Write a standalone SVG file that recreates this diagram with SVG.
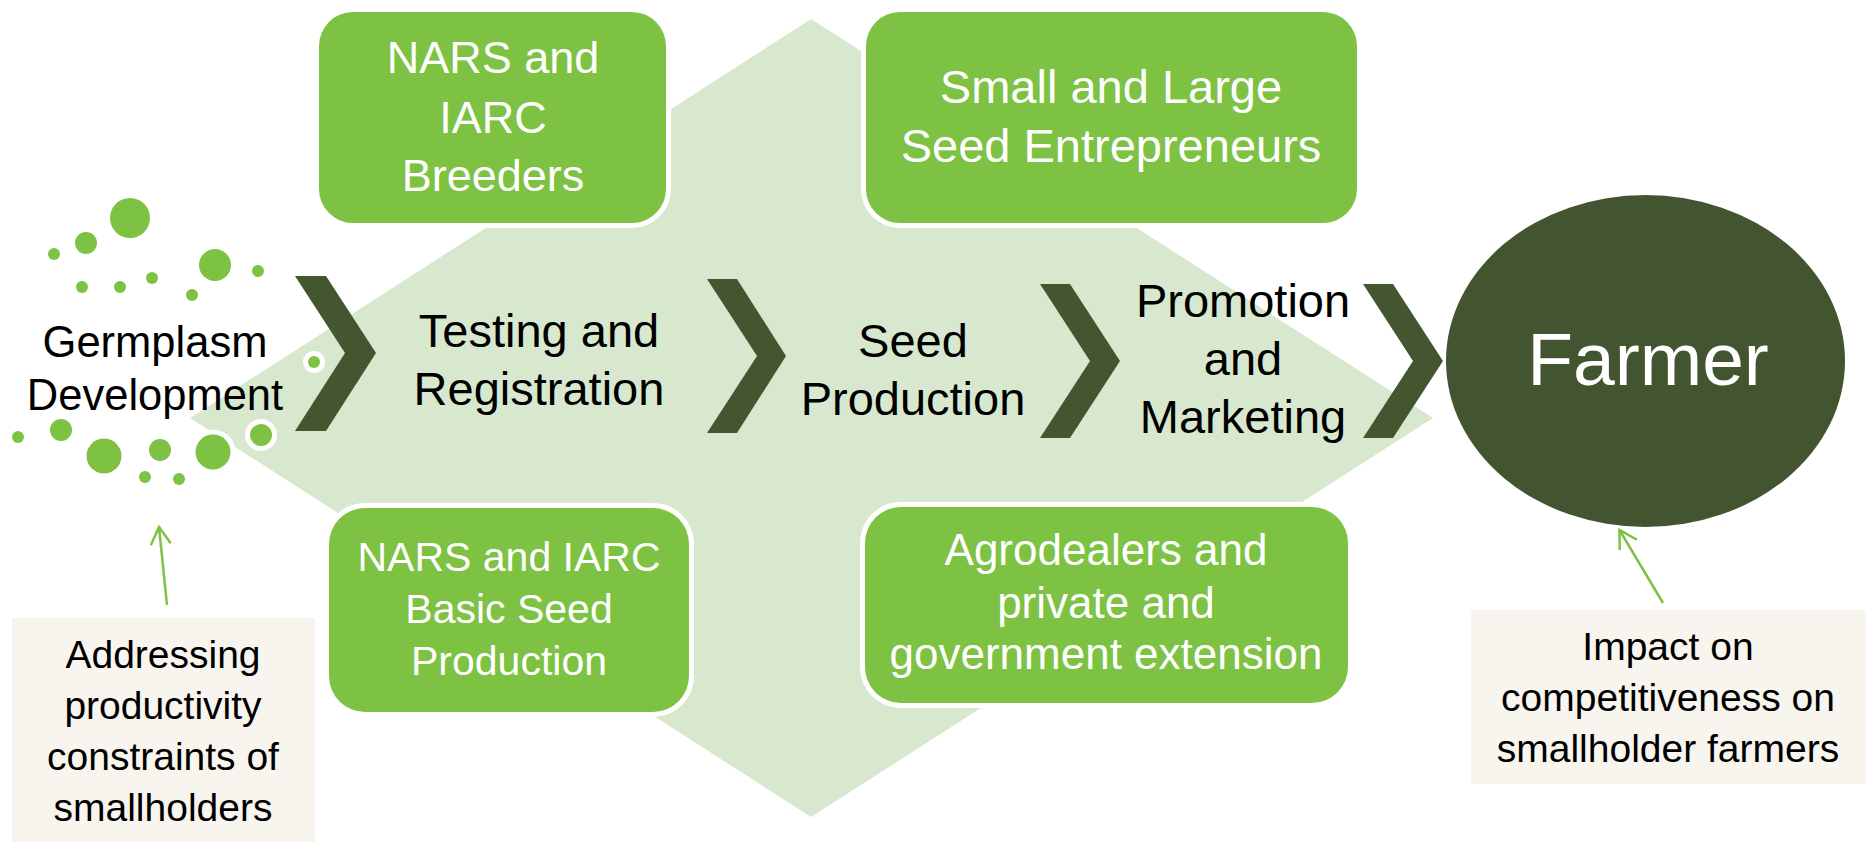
<svg xmlns="http://www.w3.org/2000/svg" width="1866" height="842" viewBox="0 0 1866 842">
<defs>
<style>
text{font-family:"Liberation Sans",Arial,sans-serif;text-anchor:middle}
.lbl{fill:#000;font-size:47px}
.lbl-sm{fill:#000;font-size:43.5px}
.box{fill:#7DC243;stroke:#fff;stroke-width:10;paint-order:stroke}
.btxt{fill:#fff}
.chev{fill:#44562F}
.dot{fill:#7DC243;stroke:#fff;stroke-width:10;paint-order:stroke}
.note{fill:#F8F4EE}
.ntxt{fill:#000;font-size:39px}
.conn{stroke:#7DC243;stroke-width:2.5;fill:none}
</style>
<marker id="arr" markerUnits="userSpaceOnUse" markerWidth="24" markerHeight="24" refX="20" refY="12" orient="auto" overflow="visible">
<path d="M2.7,2 L20,12 L2.7,22" fill="none" stroke="#7DC243" stroke-width="2.5"/>
</marker>
</defs>
<rect width="1866" height="842" fill="#fff"/>
<g id="background">
<polygon points="811,19 1433,418 811,817 190,418" fill="#D7E8CF"/>
</g>
<g id="node-breeders">
<rect class="box" x="319" y="12" width="347" height="211" rx="34"/>
<text class="btxt" font-size="45" x="493"><tspan x="493" y="73">NARS and</tspan><tspan x="493" y="133">IARC</tspan><tspan x="493" y="191">Breeders</tspan></text>
</g>
<g id="node-entrepreneurs">
<rect class="box" x="866" y="12" width="491" height="211" rx="34"/>
<text class="btxt" font-size="47" x="1111"><tspan x="1111" y="103">Small and Large</tspan><tspan x="1111" y="162">Seed Entrepreneurs</tspan></text>
</g>
<g id="node-basic-seed">
<rect class="box" x="329" y="508" width="360" height="204" rx="36"/>
<text class="btxt" font-size="41" x="509"><tspan x="509" y="571">NARS and IARC</tspan><tspan x="509" y="623">Basic Seed</tspan><tspan x="509" y="675">Production</tspan></text>
</g>
<g id="node-agrodealers">
<rect class="box" x="865" y="507" width="483" height="196" rx="36"/>
<text class="btxt" font-size="44" x="1106"><tspan x="1106" y="565">Agrodealers and</tspan><tspan x="1106" y="618">private and</tspan><tspan x="1106" y="669">government extension</tspan></text>
</g>
<g id="dots">
<circle class="dot" cx="130" cy="218" r="20"/>
<circle class="dot" cx="86" cy="243" r="11"/>
<circle class="dot" cx="54" cy="254" r="6"/>
<circle class="dot" cx="215" cy="265" r="16"/>
<circle class="dot" cx="258" cy="271" r="6"/>
<circle class="dot" cx="82" cy="287" r="6"/>
<circle class="dot" cx="120" cy="287" r="6"/>
<circle class="dot" cx="152" cy="278" r="6"/>
<circle class="dot" cx="192" cy="295" r="6"/>
<circle class="dot" cx="314" cy="362" r="6"/>
<circle class="dot" cx="18" cy="437" r="6"/>
<circle class="dot" cx="61" cy="430" r="11"/>
<circle class="dot" cx="104" cy="456" r="17.5"/>
<circle class="dot" cx="160" cy="450" r="11"/>
<circle class="dot" cx="213" cy="452" r="17.5"/>
<circle class="dot" cx="261" cy="435" r="11"/>
<circle class="dot" cx="145" cy="477" r="6"/>
<circle class="dot" cx="179" cy="479" r="6"/>
</g>
<g id="node-germplasm">
<text class="lbl-sm" x="155"><tspan x="155" y="357">Germplasm</tspan><tspan x="155" y="410">Development</tspan></text>
</g>
<g id="chevrons">
<polygon class="chev" points="295,276 326,276 376,353 326,431 295,431 345,353"/>
<polygon class="chev" points="707,279 737,279 786,356 737,433 707,433 757,356"/>
<polygon class="chev" points="1040,284 1070,284 1120,361 1070,438 1040,438 1090,361"/>
<polygon class="chev" points="1363,284 1393,284 1443,361 1393,438 1363,438 1413,361"/>
</g>
<g id="node-testing">
<text class="lbl" x="539"><tspan x="539" y="347">Testing and</tspan><tspan x="539" y="405">Registration</tspan></text>
</g>
<g id="node-seed-production">
<text class="lbl" x="913"><tspan x="913" y="357">Seed</tspan><tspan x="913" y="415">Production</tspan></text>
</g>
<g id="node-promotion">
<text class="lbl" x="1243"><tspan x="1243" y="317">Promotion</tspan><tspan x="1243" y="375">and</tspan><tspan x="1243" y="433">Marketing</tspan></text>
</g>
<g id="node-farmer">
<ellipse cx="1645.5" cy="361" rx="199.5" ry="166" fill="#435530"/>
<text x="1648" y="385" font-size="75" fill="#fff">Farmer</text>
</g>
<g id="node-note-left">
<rect class="note" x="12" y="618" width="303" height="224"/>
<text class="ntxt" x="163"><tspan x="163" y="668">Addressing</tspan><tspan x="163" y="719">productivity</tspan><tspan x="163" y="770">constraints of</tspan><tspan x="163" y="821">smallholders</tspan></text>
</g>
<g id="node-note-right">
<rect class="note" x="1471" y="610" width="395" height="174"/>
<text class="ntxt" x="1668"><tspan x="1668" y="660">Impact on</tspan><tspan x="1668" y="711">competitiveness on</tspan><tspan x="1668" y="762">smallholder farmers</tspan></text>
</g>
<g id="connectors">
<line class="conn" x1="167" y1="605" x2="159" y2="527" marker-end="url(#arr)"/>
<line class="conn" x1="1663" y1="603" x2="1619.5" y2="530" marker-end="url(#arr)"/>
</g>
</svg>
